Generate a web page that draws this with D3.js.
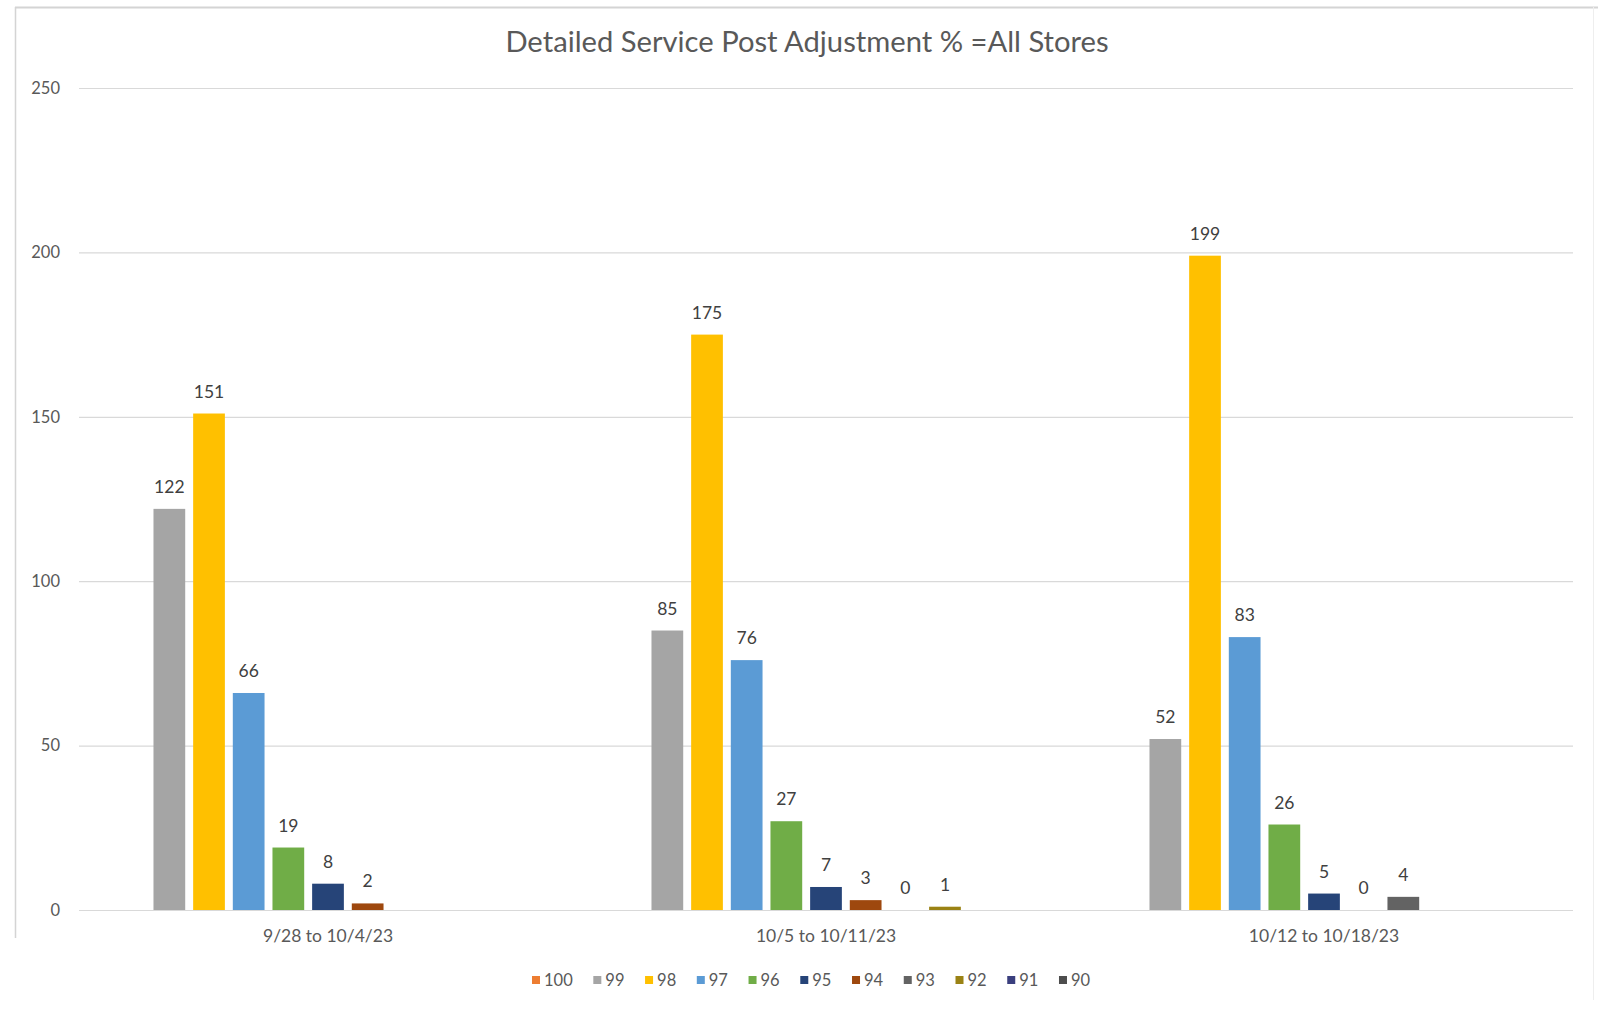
<!DOCTYPE html>
<html>
<head>
<meta charset="utf-8">
<script src="https://cdn.jsdelivr.net/npm/d3@7"></script>
<style>
  html, body { margin: 0; padding: 0; background: #ffffff; }
  svg { display: block; font-family: Lato, "Open Sans", sans-serif; }
</style>
</head>
<body>
<svg id="chart" width="1598" height="1010"></svg>
<script>
// Weekly periods on the x axis
const categories = ["9/28 to 10/4/23", "10/5 to 10/11/23", "10/12 to 10/18/23"];

// Service % buckets, in legend order
const seriesNames = ["100", "99", "98", "97", "96", "95", "94", "93", "92", "91", "90"];

// Store counts per bucket, one value per period (null = no bar)
const s100 = [null, null, null];
const s99  = [122, 85, 52];
const s98  = [151, 175, 199];
const s97  = [66, 76, 83];
const s96  = [19, 27, 26];
const s95  = [8, 7, 5];
const s94  = [2, 3, 0];
const s93  = [null, 0, 4];
const s92  = [null, 1, null];
const s91  = [null, null, null];
const s90  = [null, null, null];
const seriesValues = [s100, s99, s98, s97, s96, s95, s94, s93, s92, s91, s90];

const yTicks = [0, 50, 100, 150, 200, 250];

const seriesColors = ["#ED7D31", "#A5A5A5", "#FFC000", "#5B9BD5", "#70AD47", "#264478",
                      "#9E480E", "#636363", "#9A8214", "#3A3F7E", "#4D4D4D"];

const svg = d3.select("#chart");
const W = 1598, H = 1010;
const plot = { left: 79, right: 1573, top: 88, bottom: 910 };

// outer frame lines
svg.append("line").attr("x1", 15).attr("x2", W).attr("y1", 7.5).attr("y2", 7.5)
  .attr("stroke", "#d4d4d4").attr("stroke-width", 2);
svg.append("line").attr("x1", 15.5).attr("x2", 15.5).attr("y1", 7).attr("y2", 938)
  .attr("stroke", "#d4d4d4").attr("stroke-width", 1.5);
svg.append("line").attr("x1", 1593.5).attr("x2", 1593.5).attr("y1", 7).attr("y2", 1000)
  .attr("stroke", "#eeeeee").attr("stroke-width", 1);

const x0 = d3.scaleBand().domain(categories).range([plot.left, plot.right])
  .paddingInner(0).paddingOuter(0);
const x1 = d3.scaleBand().domain(seriesNames).range([0, x0.bandwidth()])
  .paddingInner(0.2).paddingOuter(0.878);
const y = d3.scaleLinear().domain([0, 250]).range([plot.bottom, plot.top]);

// gridlines + y labels
const yAxis = d3.axisLeft(y).tickValues(yTicks)
  .tickSize(-(plot.right - plot.left)).tickPadding(19);
const gy = svg.append("g").attr("transform", `translate(${plot.left},0)`).call(yAxis);
gy.select(".domain").remove();
gy.selectAll(".tick line").attr("stroke", "#d9d9d9").attr("stroke-width", 1.2);
gy.selectAll(".tick text").attr("fill", "#595959").attr("font-size", 16.5)
  .attr("font-family", "Lato, sans-serif");

// title
svg.append("text").attr("x", 807).attr("y", 52).attr("text-anchor", "middle")
  .attr("font-size", 29.2).attr("fill", "#595959")
  .text("Detailed Service Post Adjustment % =All Stores");

// bars
const rows = [];
seriesNames.forEach((s, si) => {
  categories.forEach((c, ci) => {
    const v = seriesValues[si][ci];
    if (v !== null) rows.push({ series: s, cat: c, value: v, color: seriesColors[si] });
  });
});

const g = svg.append("g");
g.selectAll("rect.bar").data(rows).join("rect")
  .attr("class", "bar")
  .attr("x", d => x0(d.cat) + x1(d.series))
  .attr("y", d => y(d.value))
  .attr("width", x1.bandwidth())
  .attr("height", d => y(0) - y(d.value))
  .attr("fill", d => d.color);

// data labels
g.selectAll("text.lbl").data(rows).join("text")
  .attr("class", "lbl")
  .attr("x", d => x0(d.cat) + x1(d.series) + x1.bandwidth() / 2)
  .attr("y", d => y(d.value) - 16)
  .attr("text-anchor", "middle")
  .attr("font-size", 17.5).attr("fill", "#404040")
  .text(d => d.value);

// category axis labels
const xAxis = d3.axisBottom(x0).tickSize(0).tickPadding(20);
const gx = svg.append("g").attr("transform", `translate(0,${plot.bottom})`).call(xAxis);
gx.select(".domain").remove();
gx.selectAll(".tick text").attr("fill", "#595959").attr("font-size", 17.5)
  .attr("font-family", "Lato, sans-serif");

// legend
const legend = svg.append("g").attr("transform", "translate(0,980)");
let lx = 532;
seriesNames.forEach((s, i) => {
  const item = legend.append("g").attr("transform", `translate(${lx},0)`);
  item.append("rect").attr("x", 0).attr("y", -4).attr("width", 8).attr("height", 8)
    .attr("fill", seriesColors[i]);
  const t = item.append("text").attr("x", 12).attr("y", 6)
    .attr("font-size", 16.5).attr("fill", "#595959").text(s);
  lx += 12 + t.node().getComputedTextLength() + 20.6;
});
</script>
</body>
</html>
